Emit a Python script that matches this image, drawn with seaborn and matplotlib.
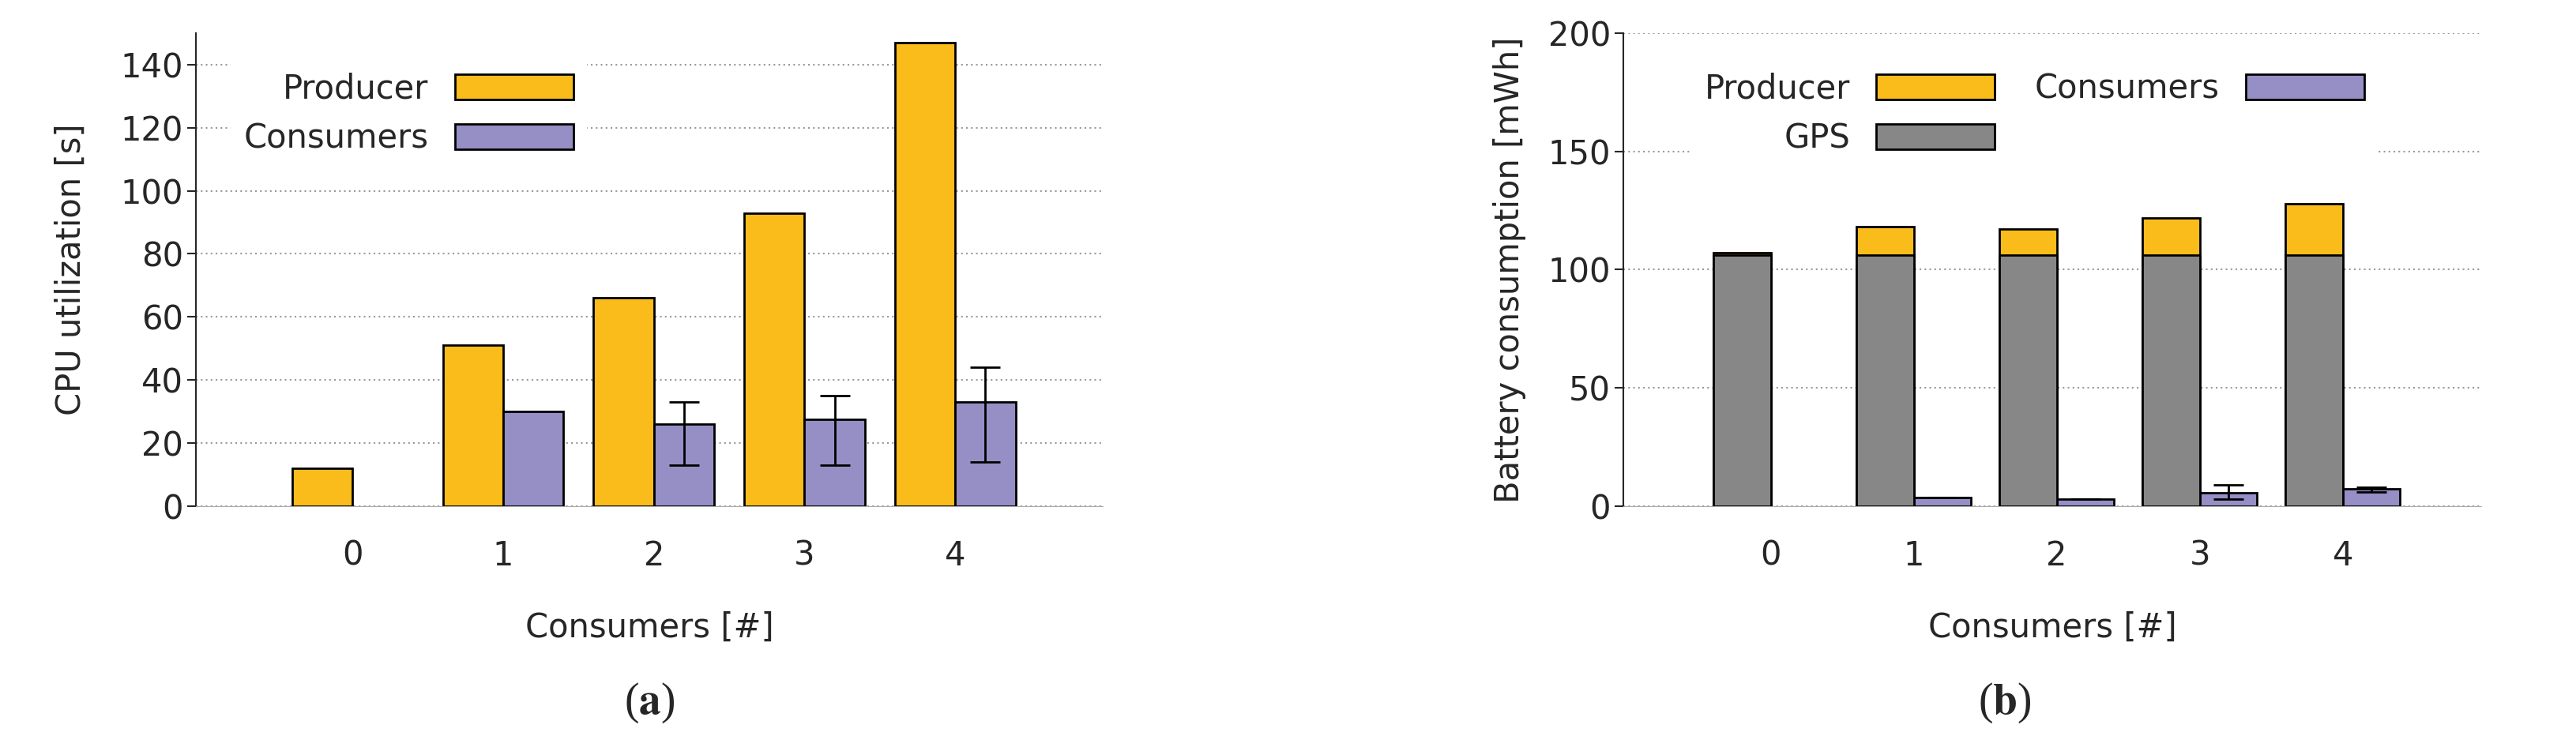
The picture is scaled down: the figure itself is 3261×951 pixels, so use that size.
import numpy as np
import pandas as pd
import matplotlib
matplotlib.use('Agg')
import matplotlib.pyplot as plt
import seaborn as sns
from matplotlib.patches import Patch

sns.set_style('ticks')
plt.rcParams['font.family'] = ['Liberation Sans Narrow', 'DejaVu Sans']
plt.rcParams['mathtext.fontset'] = 'stix'

# data
consumers = [0, 1, 2, 3, 4]
cpu_producer = [12, 51, 66, 93, 147]
cpu_consumers = [0, 30, 26, 27.5, 33]
cpu_cons_low = [0, 30, 13, 13, 14]
cpu_cons_high = [0, 30, 33, 35, 44]

bat_gps = [106, 106, 106, 106, 106]
bat_producer = [1, 12, 11, 16, 22]
bat_consumers = [0, 3.5, 3, 5.5, 7.5]
bat_cons_low = [0, 3.5, 3, 3, 6]
bat_cons_high = [0, 3.5, 3, 9, 8]

c_prod = '#F9BC1A'
c_cons = '#958FC5'
c_gps = '#878787'
fs = 30

fig = plt.figure(figsize=(32.62, 9.51), dpi=100)
ax1 = fig.add_axes([0.076, 0.326, 0.352, 0.63])
ax2 = fig.add_axes([0.630, 0.326, 0.333, 0.63])

def style(ax, ymax, step, ylabel, pad):
    ax.set_ylim(0, ymax)
    ax.set_yticks(np.arange(0, ymax + 1, step))
    ax.set_xlim(-1.04, 4.98)
    ax.set_xticks(consumers)
    ax.set_xticklabels([str(c) for c in consumers])
    ax.yaxis.grid(True, linestyle=(0, (1, 2)), color='#999999', linewidth=1.5)
    ax.set_axisbelow(True)
    for s in ['top', 'right']:
        ax.spines[s].set_visible(False)
    ax.spines['left'].set_linewidth(1.5)
    ax.spines['bottom'].set_color('#aaaaaa')
    ax.tick_params(axis='both', labelsize=fs, length=8, width=1.5)
    ax.tick_params(axis='x', length=0, pad=30)
    ax.set_xlabel('Consumers [#]', fontsize=fs, labelpad=35)
    ax.set_ylabel(ylabel, fontsize=fs, family='DejaVu Sans', labelpad=pad)
    if ax.get_legend() is not None:
        ax.get_legend().remove()

def drop_empty(ax):
    for p in ax.patches:
        if p.get_height() == 0:
            p.set_visible(False)

# (a) CPU
df1 = pd.DataFrame({
    'x': consumers * 2,
    'v': cpu_producer + cpu_consumers,
    's': ['Producer'] * 5 + ['Consumers'] * 5,
})
sns.barplot(data=df1, x='x', y='v', hue='s', palette=[c_prod, c_cons], order=consumers,
            edgecolor='black', linewidth=2, width=0.8, saturation=1, errorbar=None, ax=ax1)
drop_empty(ax1)
xs = np.array(consumers[1:]) + 0.2
v = np.array(cpu_consumers[1:])
ax1.errorbar(xs[1:], v[1:], yerr=[v[1:] - np.array(cpu_cons_low[2:]), np.array(cpu_cons_high[2:]) - v[1:]],
             fmt='none', ecolor='black', elinewidth=2, capsize=14, capthick=2)
style(ax1, 150, 20, 'CPU utilization [s]', 30)
ax1.set_ylim(0, 150)
ax1.set_yticks(np.arange(0, 141, 20))
ax1.legend(handles=[Patch(facecolor=c_prod, edgecolor='black', linewidth=2, label='Producer'),
                    Patch(facecolor=c_cons, edgecolor='black', linewidth=2, label='Consumers')],
           loc='upper left', bbox_to_anchor=(0.02, 0.98), frameon=True, facecolor='white',
           edgecolor='white', framealpha=1, markerfirst=False, fontsize=fs,
           handlelength=3.6, handleheight=0.8, labelspacing=0.5)

# (b) battery
tot = [g + p for g, p in zip(bat_gps, bat_producer)]
df2 = pd.DataFrame({
    'x': consumers * 2,
    'v': tot + bat_consumers,
    's': ['GPS+Producer'] * 5 + ['Consumers'] * 5,
})
sns.barplot(data=df2, x='x', y='v', hue='s', palette=[c_prod, c_cons], order=consumers,
            edgecolor='black', linewidth=2, width=0.8, saturation=1, errorbar=None, ax=ax2)
df3 = pd.DataFrame({
    'x': consumers * 2,
    'v': bat_gps + [0] * 5,
    's': ['GPS'] * 5 + ['none'] * 5,
})
sns.barplot(data=df3, x='x', y='v', hue='s', palette=[c_gps, c_cons], order=consumers,
            edgecolor='black', linewidth=2, width=0.8, saturation=1, errorbar=None, ax=ax2)
drop_empty(ax2)
v = np.array(bat_consumers[1:])
ax2.errorbar(xs, v, yerr=[v - np.array(bat_cons_low[1:]), np.array(bat_cons_high[1:]) - v],
             fmt='none', ecolor='black', elinewidth=2, capsize=14, capthick=2)
style(ax2, 200, 50, 'Battery consumption [mWh]', 20)
ax2.set_xlim(-1.03, 4.97)
ax2.legend(handles=[Patch(facecolor=c_prod, edgecolor='black', linewidth=2, label='Producer'),
                    Patch(facecolor=c_gps, edgecolor='black', linewidth=2, label='GPS'),
                    Patch(facecolor=c_cons, edgecolor='black', linewidth=2, label='Consumers')],
           ncol=2, loc='upper left', bbox_to_anchor=(0.06, 0.98), frameon=True, facecolor='white',
           edgecolor='white', framealpha=1, markerfirst=False, fontsize=fs,
           handlelength=3.6, handleheight=0.8, labelspacing=0.5, columnspacing=1.2)

fig.text(0.252, 0.05, r'($\mathbf{a}$)', fontsize=40, family='Liberation Serif', ha='center')
fig.text(0.778, 0.05, r'($\mathbf{b}$)', fontsize=40, family='Liberation Serif', ha='center')

fig.savefig('out.png', dpi=100)
